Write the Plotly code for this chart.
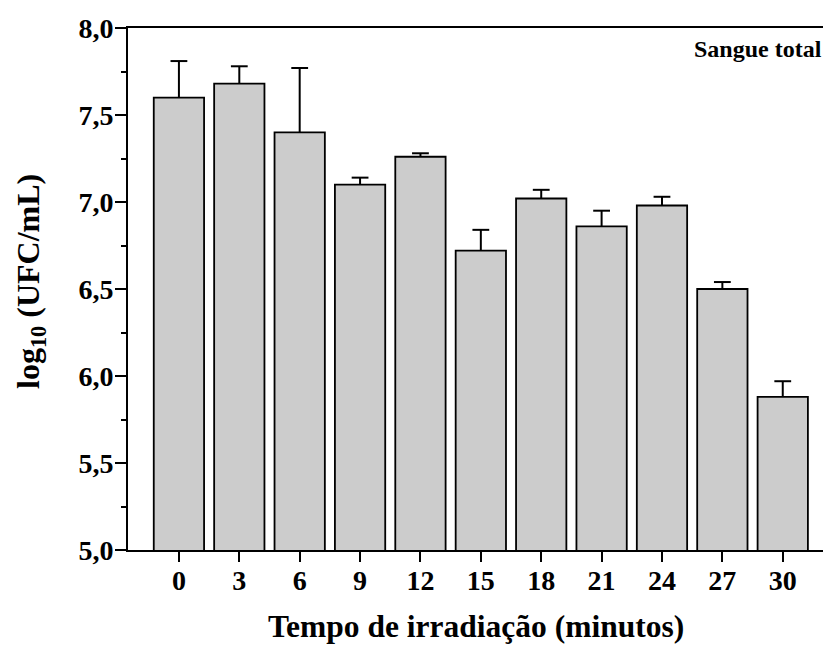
import plotly.graph_objects as go

# Data
minutes = [0, 3, 6, 9, 12, 15, 18, 21, 24, 27, 30]
log_ufc = [7.60, 7.68, 7.40, 7.10, 7.26, 6.72, 7.02, 6.86, 6.98, 6.50, 5.88]
err_up = [0.21, 0.10, 0.37, 0.04, 0.02, 0.12, 0.05, 0.09, 0.05, 0.04, 0.09]
y_ticks = [5.0, 5.5, 6.0, 6.5, 7.0, 7.5, 8.0]
y_ticktext = ["5,0", "5,5", "6,0", "6,5", "7,0", "7,5", "8,0"]
y_minor = [5.25, 5.75, 6.25, 6.75, 7.25, 7.75]

FONT = "Liberation Serif"
err_top = [m + e for m, e in zip(log_ufc, err_up)]

fig = go.Figure()
fig.add_trace(go.Bar(
    x=minutes, y=log_ufc,
    width=2.5,
    marker=dict(color="#cccccc", line=dict(color="black", width=1.8)),
    error_y=dict(type="data", array=err_up, arrayminus=[0] * len(err_up),
                 symmetric=False, color="black", thickness=2, width=0),
    showlegend=False,
))
# caps on top of error bars
fig.add_trace(go.Scatter(
    x=minutes, y=err_top, mode="markers",
    marker=dict(symbol="line-ew-open", size=12, color="black",
                line=dict(color="black", width=2)),
    showlegend=False, hoverinfo="skip",
))

fig.update_layout(
    width=823, height=646,
    margin=dict(l=128, r=0, t=28, b=96),
    plot_bgcolor="white", paper_bgcolor="white",
    xaxis=dict(
        range=[-2.53, 32.0],
        tickvals=minutes, ticktext=[str(m) for m in minutes],
        ticks="outside", ticklen=10, tickwidth=2, tickcolor="black",
        ticklabelstandoff=-6,
        showline=True, linecolor="black", linewidth=2, mirror=True,
        showgrid=False, zeroline=False,
        tickfont=dict(family=FONT, size=28, color="black", weight="bold"),
    ),
    yaxis=dict(
        range=[5.0, 8.0],
        tickvals=y_ticks, ticktext=y_ticktext,
        ticks="outside", ticklen=11, tickwidth=2, tickcolor="black",
        ticklabelstandoff=-4,
        minor=dict(tickvals=y_minor, ticks="outside", ticklen=5, tickwidth=2, tickcolor="black"),
        showline=True, linecolor="black", linewidth=2,
        showgrid=False, zeroline=False,
        tickfont=dict(family=FONT, size=28, color="black", weight="bold"),
    ),
    annotations=[
        dict(text="Tempo de irradiação (minutos)", xref="paper", yref="paper",
             x=0.5, y=(550 - 626) / 522, xanchor="center", yanchor="middle",
             showarrow=False,
             font=dict(family=FONT, size=31.5, color="black", weight="bold")),
        dict(text="log<sub>10</sub> (UFC/mL)", xref="paper", yref="paper",
             x=(30 - 128) / 695, y=(550 - 282) / 522, xanchor="center", yanchor="middle",
             textangle=-90, showarrow=False,
             font=dict(family=FONT, size=32, color="black", weight="bold")),
        dict(text="Sangue total", xref="paper", yref="paper",
             x=(692 - 128) / 695, y=(550 - 49) / 522, xanchor="left", yanchor="middle",
             showarrow=False,
             font=dict(family=FONT, size=24, color="black", weight="bold")),
    ],
)

fig.write_html("out.html")
